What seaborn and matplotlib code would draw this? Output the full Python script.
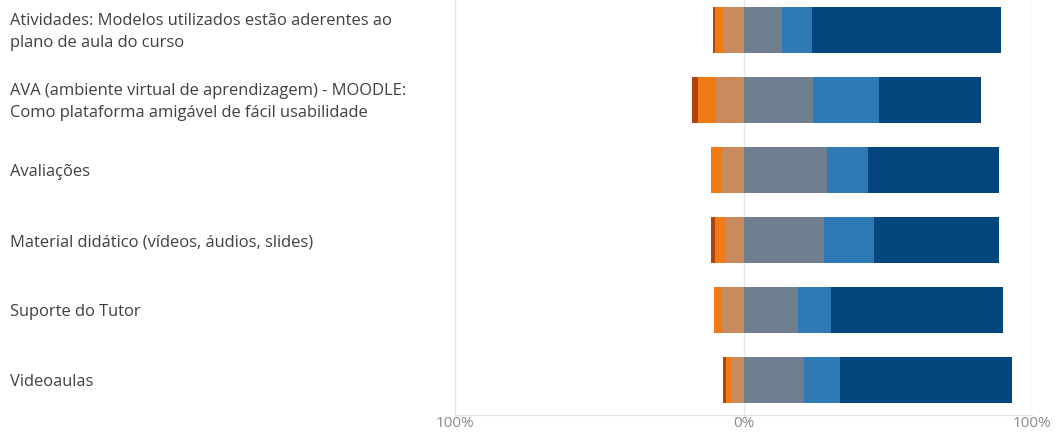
"""
Diverging stacked bar chart of survey answers
(three negative levels to the left of 0, three positive to the right).
"""

import pandas as pd
import matplotlib.pyplot as plt
import matplotlib.transforms as mtransforms
import seaborn as sns


categories = [
    'Atividades: Modelos utilizados estão aderentes ao\nplano de aula do curso',
    'AVA (ambiente virtual de aprendizagem) - MOODLE:\nComo plataforma amigável de fácil usabilidade',
    'Avaliações',
    'Material didático (vídeos, áudios, slides)',
    'Suporte do Tutor',
    'Videoaulas',
]

# percentages per answer level
neg3 = [0.7, 1.8, 0.0, 1.1, 0.0, 1.0]      # strongest disagreement
neg2 = [2.9, 6.4, 3.9, 3.9, 2.9, 1.6]
neg1 = [7.1, 9.5, 7.3, 6.1, 7.3, 4.5]
pos1 = [13.5, 24.2, 28.9, 27.8, 18.9, 20.9]
pos2 = [10.2, 22.8, 14.2, 17.6, 11.3, 12.6]
pos3 = [65.4, 35.4, 45.5, 43.1, 59.7, 59.6]  # strongest agreement

tick_values = [-100, 0, 100]
tick_labels = ['100%', '0%', '100%']

colors = {
    'neg3': '#B2430C',
    'neg2': '#F07B16',
    'neg1': '#C98A5E',
    'pos1': '#6F7F90',
    'pos2': '#2F7AB4',
    'pos3': '#04477F',
}


def build_table():
    """
    Cumulative lengths so that bars drawn from 0 can be
    overlapped (longest first) to form the stacks
    """
    df = pd.DataFrame({'cat': categories})
    df['neg1'] = [-a for a in neg1]
    df['neg2'] = [-(a + b) for a, b in zip(neg1, neg2)]
    df['neg3'] = [-(a + b + c) for a, b, c in zip(neg1, neg2, neg3)]
    df['pos1'] = pos1
    df['pos2'] = [a + b for a, b in zip(pos1, pos2)]
    df['pos3'] = [a + b + c for a, b, c in zip(pos1, pos2, pos3)]
    return df


def plot(df):
    sns.set_style('white')
    plt.rcParams['font.family'] = ['Open Sans', 'DejaVu Sans']

    fig = plt.figure(figsize=(10.56, 4.32), dpi=100)
    ax = fig.add_axes([455 / 1056, 17 / 432, 577 / 1056, 415 / 432])

    for key in ['neg3', 'neg2', 'neg1', 'pos3', 'pos2', 'pos1']:
        sns.barplot(data=df, x=key, y='cat', orient='h', color=colors[key],
                    width=0.66, linewidth=0, saturation=1, ax=ax)

    ax.set_xlim(-100, 100)
    ax.set_ylim(5.5, -30 / 70)
    ax.set_xticks(tick_values)
    ax.set_xticklabels(tick_labels, color='#8a8a8a', fontsize=11)
    ax.tick_params(axis='x', length=0, pad=0.5)
    ax.set_yticks([])
    ax.set_xlabel('')
    ax.set_ylabel('')
    for x in tick_values:
        ax.axvline(x, color='#e6e6e6', lw=1, zorder=0)
    for side in ['top', 'right', 'left']:
        ax.spines[side].set_visible(False)
    ax.spines['bottom'].set_color('#e3e3e3')

    trans = mtransforms.blended_transform_factory(fig.transFigure,
                                                  ax.transData)
    for i, label in enumerate(categories):
        ax.text(10 / 1056, i + 0.03, label, transform=trans, ha='left',
                va='center', fontsize=11.9, color='#404040',
                linespacing=1.5, clip_on=False)

    plt.savefig('out.png', dpi=100)


def main():
    df = build_table()
    plot(df)


if __name__ == '__main__':
    main()
